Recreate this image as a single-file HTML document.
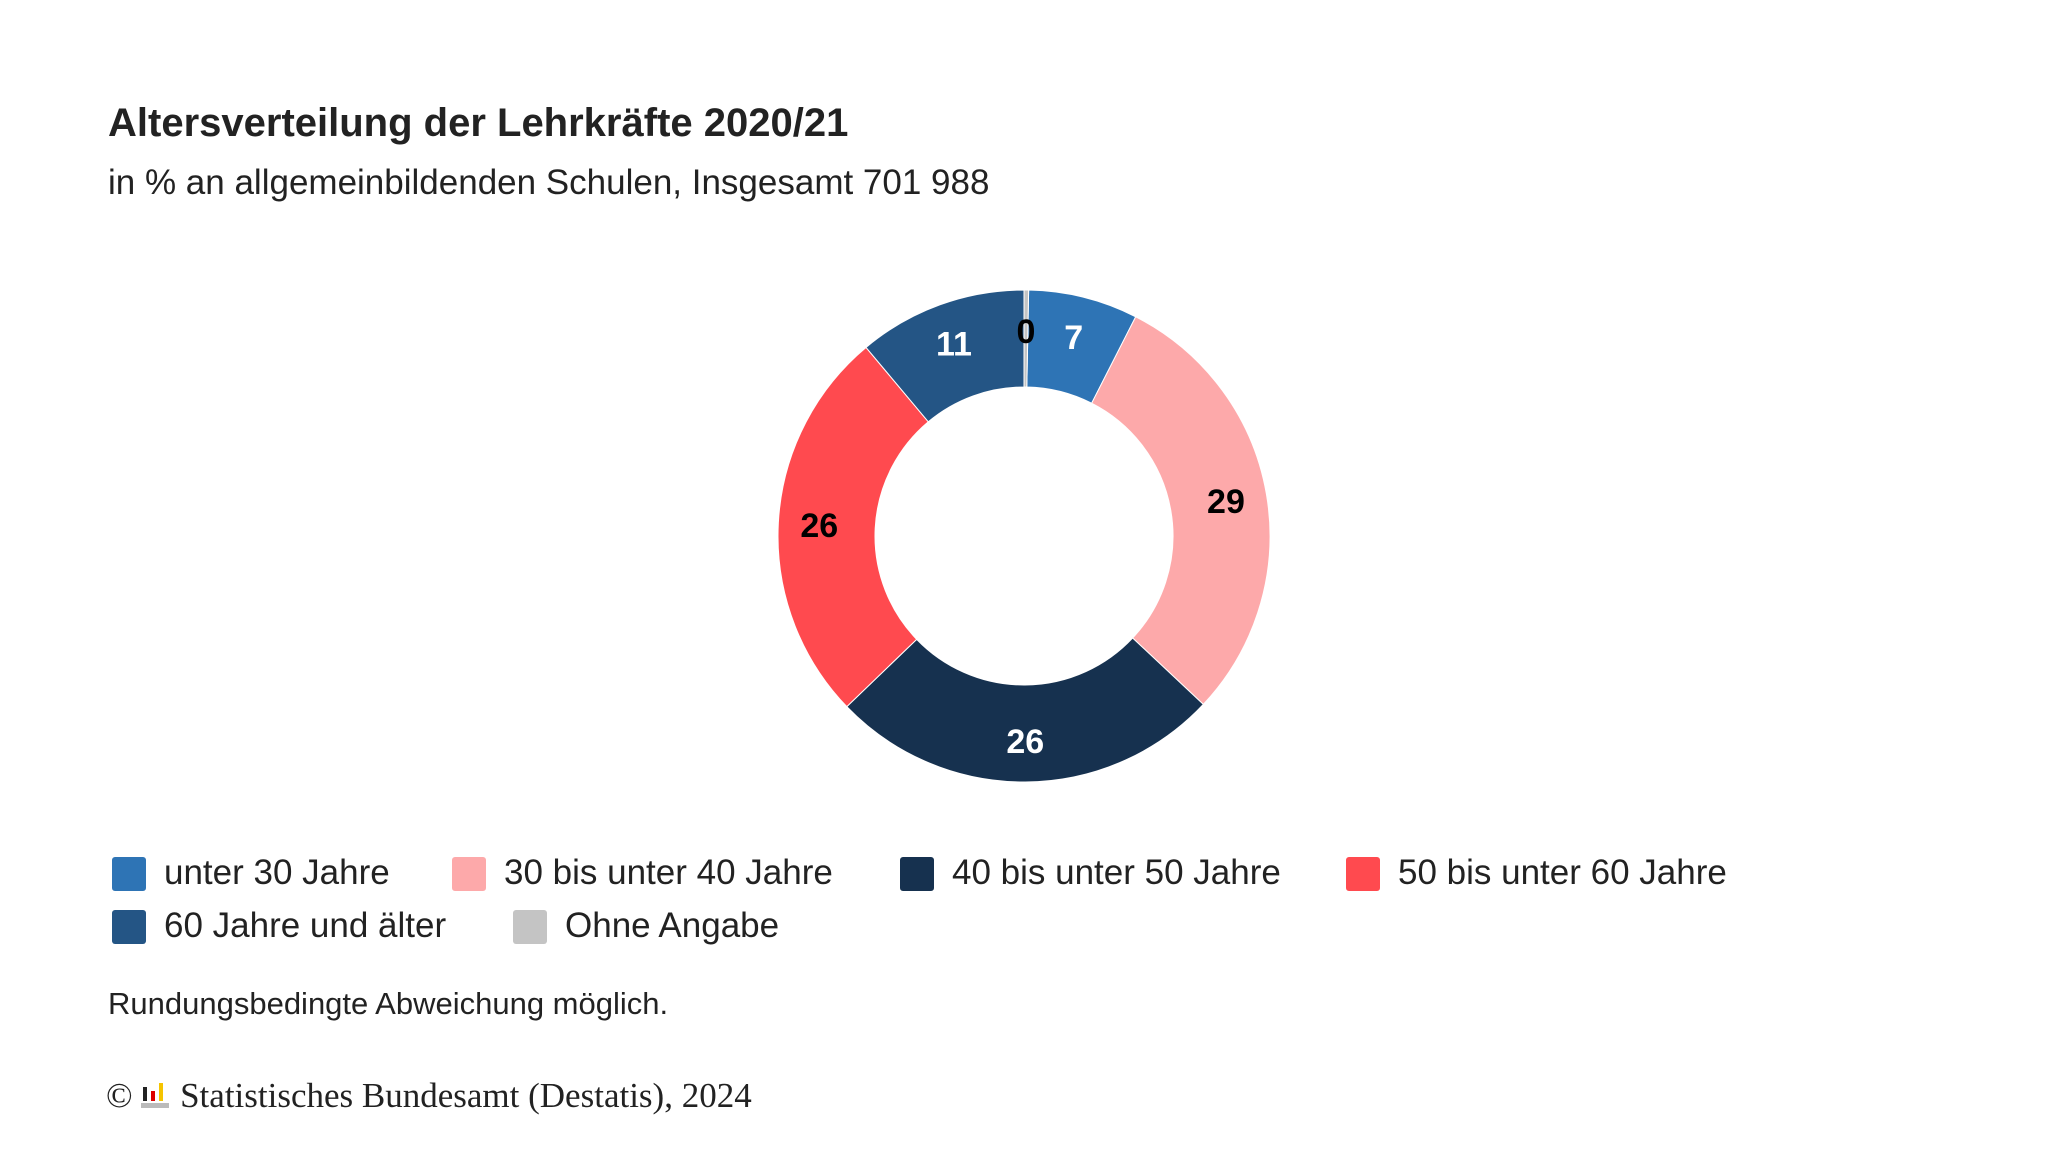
<!DOCTYPE html>
<html><head><meta charset="utf-8">
<style>
body{margin:0;width:2048px;height:1152px;background:#fff;font-family:"Liberation Sans",sans-serif;color:#222;position:relative;overflow:hidden}
.t{position:absolute;white-space:nowrap}
.sq{position:absolute;width:34px;height:34px;border-radius:3px}
</style></head><body>
<div class="t" style="left:108px;top:101px;font-size:40px;font-weight:bold">Altersverteilung der Lehrkräfte 2020/21</div>
<div class="t" style="left:108px;top:163px;font-size:35px">in % an allgemeinbildenden Schulen, Insgesamt 701 988</div>
<svg id="chart" width="2048" height="1152" style="position:absolute;left:0;top:0"></svg>
<div id="legend"></div>
<div class="t" style="left:108px;top:986px;font-size:31px">Rundungsbedingte Abweichung möglich.</div>
<div class="t" style="left:106px;top:1076px;font-size:35px;font-family:'Liberation Serif',serif">© <svg width="30" height="28" style="vertical-align:-2px"><rect x="2" y="6" width="4" height="14" fill="#222"/><rect x="10" y="10" width="4" height="10" fill="#d00"/><rect x="18" y="2" width="4" height="18" fill="#f5c400"/><rect x="0" y="22" width="28" height="5" fill="#bbb"/></svg> Statistisches Bundesamt (Destatis), 2024</div>
<script>
const categories=["unter 30 Jahre","30 bis unter 40 Jahre","40 bis unter 50 Jahre","50 bis unter 60 Jahre","60 Jahre und älter","Ohne Angabe"];
const values=[7.2,29.5,25.8,26.1,11.1,0.3];
const labels=["7","29","26","26","11","0"];
const colors=["#2e74b5","#fda9aa","#16314f","#ff4a4f","#245585","#c4c4c4"];
const labelColors=["#fff","#000","#fff","#000","#fff","#000"];
const NS="http://www.w3.org/2000/svg";
const svg=document.getElementById('chart');
const cx=1024,cy=536,R=246,r=149,LR=205;
const total=values.reduce((a,b)=>a+b,0);
const start=0.3/100*360;
function pt(rad,deg){const a=(deg-90)*Math.PI/180;return [cx+rad*Math.cos(a),cy+rad*Math.sin(a)];}
let acc=start;
values.forEach((v,i)=>{
  const a0=acc,a1=acc+v/total*360;acc=a1;
  const large=(a1-a0)>180?1:0;
  const p0=pt(R,a0),p1=pt(R,a1),q1=pt(r,a1),q0=pt(r,a0);
  const path=document.createElementNS(NS,'path');
  path.setAttribute('d',`M${p0[0]},${p0[1]}A${R},${R} 0 ${large} 1 ${p1[0]},${p1[1]}L${q1[0]},${q1[1]}A${r},${r} 0 ${large} 0 ${q0[0]},${q0[1]}Z`);
  path.setAttribute('fill',colors[i]);
  path.setAttribute('stroke','#fff');path.setAttribute('stroke-width','1');
  
  
  svg.appendChild(path);
  const lp=pt(LR,(a0+a1)/2);
  const t=document.createElementNS(NS,'text');
  t.setAttribute('x',lp[0]);t.setAttribute('y',lp[1]+12);
  t.setAttribute('text-anchor','middle');t.setAttribute('font-size','34');t.setAttribute('font-weight','bold');
  t.setAttribute('font-family','Liberation Sans, sans-serif');t.setAttribute('fill',labelColors[i]);
  t.textContent=labels[i];
  
  
  svg.appendChild(t);
});
const leg=document.getElementById('legend');
const lx=[112,452,900,1346,112,513],ly=[857,857,857,857,910,910];
categories.forEach((c,i)=>{
  const s=document.createElement('div');s.className='sq';
  s.style.left=lx[i]+'px';s.style.top=ly[i]+'px';s.style.background=colors[i];
  
  
  leg.appendChild(s);
  const t=document.createElement('div');t.className='t';
  t.style.left=(lx[i]+52)+'px';t.style.top=(ly[i]-4)+'px';t.style.fontSize='35px';
  t.textContent=c;
  
  
  leg.appendChild(t);
});
</script>
</body></html>
